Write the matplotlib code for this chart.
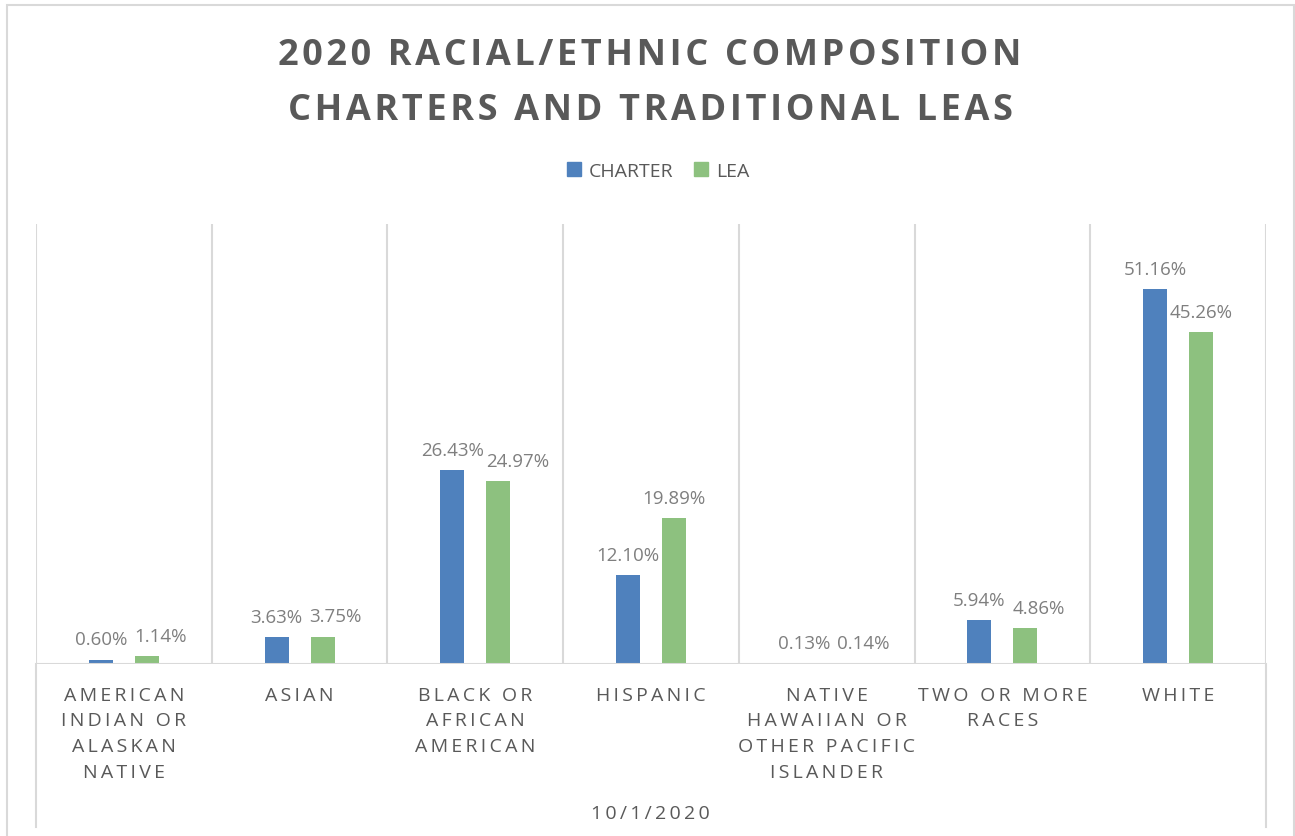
import matplotlib.pyplot as plt
from matplotlib.lines import Line2D
from matplotlib.patches import Rectangle

# data
categories = ['AMERICAN\nINDIAN OR\nALASKAN\nNATIVE', 'ASIAN', 'BLACK OR\nAFRICAN\nAMERICAN',
              'HISPANIC', 'NATIVE\nHAWAIIAN OR\nOTHER PACIFIC\nISLANDER', 'TWO OR MORE\nRACES', 'WHITE']
charter = [0.60, 3.63, 26.43, 12.10, 0.13, 5.94, 51.16]
lea = [1.14, 3.75, 24.97, 19.89, 0.14, 4.86, 45.26]

BLUE = '#4F81BD'
GREEN = '#8DC17F'
GRID = '#D9D9D9'
TXT = '#595959'
LBL = '#7F7F7F'
FONT = ['Open Sans', 'DejaVu Sans']


def spaced(s, sep='\u2009'):
    # widen letters like Excel's character spacing
    return '\n'.join(sep.join(line) for line in s.split('\n'))


plt.rcParams['font.family'] = FONT

fig = plt.figure(figsize=(12.95, 8.37), dpi=100)
W, H = 1295, 837

def fx(px):
    return px / W

def fy(py):
    return 1 - py / H

# outer chart frame
fig.add_artist(Rectangle((fx(7), fy(842)), fx(1294) - fx(7), fy(6) - fy(842),
                         transform=fig.transFigure, fill=False, edgecolor=GRID, lw=1.5))

ax = fig.add_axes([fx(36), fy(665), fx(1266) - fx(36), fy(225) - fy(665)])
ax.set_xlim(-0.5, len(categories) - 0.5)
ax.set_ylim(0, 60)
for s in ax.spines.values():
    s.set_visible(False)
ax.set_xticks([])
ax.set_yticks([])

w = 0.137
off = 0.131
pairs = []
for i in range(len(categories)):
    ax.bar(i - off, charter[i], w, color=BLUE, zorder=3)
    ax.bar(i + off, lea[i], w, color=GREEN, zorder=3)
    a = ax.annotate(f'{charter[i]:.2f}%', (i - off, charter[i]), xytext=(0, 8), textcoords='offset points',
                    ha='center', va='bottom', fontsize=13.5, color=LBL, family=FONT)
    b = ax.annotate(f'{lea[i]:.2f}%', (i + off, lea[i]), xytext=(0, 8), textcoords='offset points',
                    ha='center', va='bottom', fontsize=13.5, color=LBL, family=FONT)
    pairs.append((a, b))
    ax.text(i, -0.049, spaced(categories[i]), transform=ax.get_xaxis_transform(),
            ha='center', va='top', fontsize=14, color=TXT, linespacing=1.56, family=FONT)

# category separators
for k in range(len(categories) + 1):
    ax.axvline(k - 0.5, color=GRID, lw=1.5, zorder=1)
ax.axhline(0, color=GRID, lw=1.5, zorder=4)

# outer plot lines reach down past the labels
for px in (36, 1266):
    fig.add_artist(Line2D([fx(px), fx(px)], [fy(665), fy(828)], transform=fig.transFigure,
                          color=GRID, lw=1.5))

fig.text(fx(650), fy(814), spaced('10/1/2020'), ha='center', va='center', fontsize=14, color=TXT)

fig.text(fx(650), fy(56), spaced('2020 RACIAL/ETHNIC COMPOSITION', '\u200a'), ha='center', va='center',
         fontsize=26, fontweight='bold', color=TXT)
fig.text(fx(650), fy(111), spaced('CHARTERS AND TRADITIONAL LEAS', '\u200a'), ha='center', va='center',
         fontsize=26, fontweight='bold', color=TXT)

# legend
handles = [Rectangle((0, 0), 1, 1, color=BLUE), Rectangle((0, 0), 1, 1, color=GREEN)]
fig.legend(handles, ['CHARTER', 'LEA'], loc='center', bbox_to_anchor=(fx(658), fy(172)), ncol=2,
           frameon=False, fontsize=14, labelcolor=TXT, handlelength=0.7, handleheight=0.7,
           handletextpad=0.4, columnspacing=1.1)

# nudge LEA labels right when they collide with the CHARTER label (as Excel does)
fig.canvas.draw()
r = fig.canvas.get_renderer()
for a, b in pairs:
    ea = a.get_window_extent(r)
    eb = b.get_window_extent(r)
    vov = min(ea.y1, eb.y1) - max(ea.y0, eb.y0)
    gap = 7 if vov > 0.5 * ea.height else 2
    if vov > 0 and eb.x0 < ea.x1 + gap:
        shift = ea.x1 + gap - eb.x0
        b.xyann = (shift * 72 / fig.dpi, b.xyann[1])

fig.savefig('out.png', dpi=100)
